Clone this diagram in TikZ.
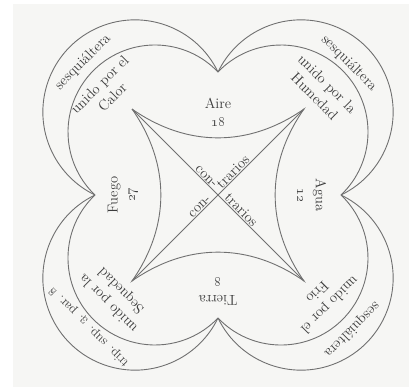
\documentclass[tikz,border=0pt]{standalone}
\definecolor{ink}{HTML}{707070}
\definecolor{txt}{HTML}{3C3C3C}
\definecolor{paper}{HTML}{F6F6F4}
\begin{document}
\begin{tikzpicture}[x=1pt,y=1pt,
  curve/.style={draw=ink, line width=0.9pt},
  lab/.style={text=txt, font=\fontsize{14.5}{18}\selectfont, align=center, inner sep=1pt},
]
\useasboundingbox (-218,-194) rectangle (191,195);
\fill[white] (-218,-194) rectangle (191,195);
\fill[paper] (-205,-192) rectangle (191,191);

% cusps of the outer lobes
\coordinate (T) at (0,123);
\coordinate (L) at (-123,0);
\coordinate (B) at (0,-123);
\coordinate (R) at (123,0);
% corners of the inner figure
\coordinate (UL) at (-86,86);
\coordinate (UR) at (86,86);
\coordinate (LR) at (86,-86);
\coordinate (LL) at (-86,-86);

% outer and inner lobes
\draw[curve] (T) arc[start angle=25.73, end angle=244.27, radius=92.14];
\draw[curve] (T) arc[start angle=43.6, end angle=226.4, radius=87];
\draw[curve] (R) arc[start angle=-64.27, end angle=154.27, radius=92.14];
\draw[curve] (R) arc[start angle=-46.4, end angle=136.4, radius=87];
\draw[curve] (L) arc[start angle=115.73, end angle=334.27, radius=92.14];
\draw[curve] (L) arc[start angle=133.6, end angle=316.4, radius=87];
\draw[curve] (B) arc[start angle=205.73, end angle=424.27, radius=92.14];
\draw[curve] (B) arc[start angle=223.6, end angle=406.4, radius=87];

% inner concave square and diagonals
\draw[curve] (UL) to[bend right=35] (UR) to[bend right=35] (LR)
  to[bend right=35] (LL) to[bend right=35] (UL);
\draw[curve] (UL) -- (LR);
\draw[curve] (UR) -- (LL);

% elements
\node[lab] (aire) at (0,83) {Aire\\\oldstylenums{18}};
\node[lab, rotate=180] (tierra) at (0,-96) {Tierra\\\oldstylenums{8}};
\node[lab, rotate=90] (fuego) at (-95,0) {Fuego\\\oldstylenums{27}};
\node[lab, rotate=-90] (agua) at (94,0) {Agua\\\oldstylenums{12}};

% lobe labels
\node[lab, rotate=45] (s1) at (-135,133) {sesquiáltera};
\node[lab, rotate=45] (u1) at (-112,104) {unido por el\\Calor};
\node[lab, rotate=-45] (s2) at (131,132) {sesquiáltera};
\node[lab, rotate=-45] (u2) at (103,105) {unido por la\\Humedad};
\node[lab, rotate=135, font=\fontsize{13}{16}\selectfont] (s3) at (-129,-132) {trip. sup. \oldstylenums{3}. par. \oldstylenums{8}};
\node[lab, rotate=135] (u3) at (-103,-102) {unido por la\\Sequedad};
\node[lab, rotate=225] (s4) at (134,-135) {sesquiáltera};
\node[lab, rotate=225] (u4) at (106,-104) {unido por el\\Frio};

% contrarios on the diagonals
\node[lab, rotate=-45, anchor=south east] (c1a) at (-5,5) {con-};
\node[lab, rotate=-45, anchor=south west] (c1b) at (4,-4) {trarios};
\node[lab, rotate=45, anchor=south east] (c2a) at (-5,-5) {con-};
\node[lab, rotate=45, anchor=south west] (c2b) at (4,4) {trarios};
\end{tikzpicture}
\end{document}
